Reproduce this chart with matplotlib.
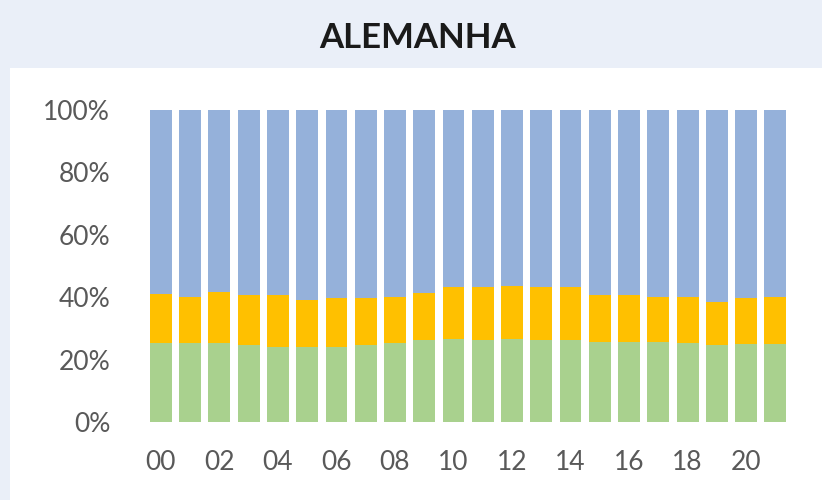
import numpy as np
import matplotlib.pyplot as plt
from matplotlib.patches import Rectangle

# --- data (share of each hour, %) ---
hours = [f"{h:02d}" for h in range(22)]
green = [25.3, 25.3, 25.3, 24.7, 24.0, 24.0, 24.0, 24.7, 25.3, 26.3, 26.6,
         26.3, 26.6, 26.3, 26.3, 25.6, 25.6, 25.6, 25.3, 24.7, 25.0, 25.0]
orange = [15.7, 14.8, 16.4, 16.0, 16.7, 15.1, 15.7, 15.0, 14.8, 15.0, 16.7,
          17.0, 17.0, 17.0, 17.0, 15.1, 15.1, 14.5, 14.8, 13.8, 14.7, 15.1]
blue = [59.0, 59.9, 58.3, 59.3, 59.3, 60.9, 60.3, 60.3, 59.9, 58.7, 56.7,
        56.7, 56.4, 56.7, 56.7, 59.3, 59.3, 59.9, 59.9, 61.5, 60.3, 59.9]
yticks = [0, 20, 40, 60, 80, 100]

C_GREEN = '#A9D18E'
C_ORANGE = '#FFC000'
C_BLUE = '#95B1DA'
TXT = '#595959'

plt.rcParams['font.family'] = ['Lato', 'DejaVu Sans']

fig = plt.figure(figsize=(8.22, 5.0), dpi=100)
fig.patch.set_facecolor('#EAEFF8')
# white chart panel
fig.add_artist(Rectangle((10 / 822, 0), 1, (500 - 68) / 500,
                         transform=fig.transFigure, facecolor='white',
                         edgecolor='none', zorder=0))

fig.text(0.508, 0.925, 'ALEMANHA', ha='center', va='center',
         fontsize=25, fontweight='bold', color='#1a1a1a')

ax = fig.add_axes([0.178, 0.156, 0.783, 0.624])
ax.patch.set_alpha(0)
x = np.arange(len(hours))
g = np.array(green)
o = np.array(orange)
b = np.array(blue)
ax.bar(x, g, width=0.75, color=C_GREEN)
ax.bar(x, o, width=0.75, bottom=g, color=C_ORANGE)
ax.bar(x, b, width=0.75, bottom=g + o, color=C_BLUE)

ax.set_xlim(-0.5, len(hours) - 0.5)
ax.set_ylim(0, 100)
ax.set_yticks(yticks)
ax.set_yticklabels([f"{v}%" for v in yticks])
ax.set_xticks(x[::2])
ax.set_xticklabels(hours[::2])
ax.tick_params(axis='both', length=0, labelsize=19, labelcolor=TXT)
ax.tick_params(axis='y', pad=26)
ax.tick_params(axis='x', pad=20)
for s in ax.spines.values():
    s.set_visible(False)

fig.savefig('out.png', dpi=100, facecolor=fig.get_facecolor())
